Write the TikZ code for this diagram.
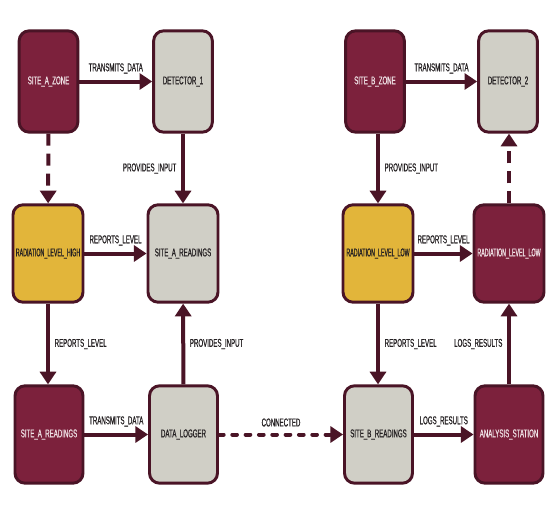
\documentclass[tikz,border=0pt]{standalone}
\usepackage{fontspec}
\setmainfont[FakeStretch=0.54, FakeBold=0.6]{Liberation Sans}
\newfontfamily\tightfont[FakeStretch=0.47, FakeBold=0.6]{Liberation Sans}
\usetikzlibrary{arrows.meta}

\definecolor{wine}{RGB}{124,33,60}
\definecolor{winetext}{RGB}{240,226,230}
\definecolor{framemaroon}{RGB}{74,20,38}
\definecolor{stone}{RGB}{208,207,198}
\definecolor{mustard}{RGB}{226,181,58}
\definecolor{inktext}{RGB}{36,32,34}

\tikzset{every picture/.style={line width=0.75pt},
  block/.style={draw=framemaroon, line width=2.2pt, rounded corners=7.5pt, align=center, inner sep=1pt, font=\fontsize{8.5}{9}\selectfont},
  winebox/.style={block, fill=wine, text=winetext},
  stonebox/.style={block, fill=stone, text=inktext},
  mustardbox/.style={block, fill=mustard, text=inktext},
  toprow/.style={minimum width=44pt, minimum height=76pt},
  midrow/.style={minimum width=52.5pt, minimum height=73pt},
  lowrow/.style={minimum width=51pt, minimum height=73pt},
  flow/.style={draw=framemaroon, line width=3pt, -{Triangle[width=12pt,length=9.5pt]}},
  dashflow/.style={flow, dash pattern=on 9pt off 6pt},
  dotflow/.style={flow, line cap=round, dash pattern=on 3.5pt off 6.5pt},
  lbl/.style={text=inktext, inner sep=1.5pt, font=\fontsize{8.5}{9}\selectfont}
}

\begin{document}
\begin{tikzpicture}[x=0.75pt,y=0.75pt,yscale=-1,xscale=1]
    %set diagram at 557 x 507
    \path[use as bounding box, fill=white] (0,0) rectangle (557,507);

    % Top row
    \node (siteAzone) at (48.5,81.5) [winebox, toprow] {SITE\_A\_ZONE};
    \node (detector1) at (183,81.5) [stonebox, toprow] {DETECTOR\_1};
    \node (siteBzone) at (375,81.5) [winebox, toprow] {SITE\_B\_ZONE};
    \node (detector2) at (508,81.5) [stonebox, toprow] {DETECTOR\_2};
    % Middle row
    \node (radHigh) at (48,253.5) [mustardbox, midrow, font=\tightfont\fontsize{8.5}{9}\selectfont] {RADIATION\_LEVEL\_HIGH};
    \node (siteAread) at (183,253.5) [stonebox, midrow] {SITE\_A\_READINGS};
    \node (radLowA) at (378,253.5) [mustardbox, midrow, font=\tightfont\fontsize{8.5}{9}\selectfont] {RADIATION\_LEVEL\_LOW};
    \node (radLowB) at (509,253.5) [winebox, midrow, font=\tightfont\fontsize{8.5}{9}\selectfont] {RADIATION\_LEVEL\_LOW};
    % Bottom row
    \node (siteAreadB) at (49,434.5) [winebox, lowrow] {SITE\_A\_READINGS};
    \node (logger) at (183.5,434.5) [stonebox, lowrow] {DATA\_LOGGER};
    \node (siteBread) at (378.5,434.5) [stonebox, lowrow] {SITE\_B\_READINGS};
    \node (station) at (509,434.5) [winebox, lowrow] {ANALYSIS\_STATION};

    % Horizontal links
    \draw [flow] (siteAzone) -- (detector1) node [lbl, midway, above=3pt] {TRANSMITS\_DATA};
    \draw [flow] (siteBzone) -- (detector2) node [lbl, midway, above=3pt] {TRANSMITS\_DATA};
    \draw [flow] (radHigh) -- (siteAread) node [lbl, midway, above=3pt] {REPORTS\_LEVEL};
    \draw [flow] (radLowA) -- (radLowB) node [lbl, midway, above=3pt] {REPORTS\_LEVEL};
    \draw [flow] (siteAreadB) -- (logger) node [lbl, midway, above=3pt] {TRANSMITS\_DATA};
    \draw [dotflow] (logger) -- (siteBread) node [lbl, midway, above=3pt] {CONNECTED};
    \draw [flow] (siteBread) -- (station) node [lbl, midway, above=3pt] {LOGS\_RESULTS};

    % Vertical links
    \draw [dashflow] (siteAzone) -- (radHigh);
    \draw [flow] (detector1) -- (siteAread) node [lbl, midway, left=2pt] {PROVIDES\_INPUT};
    \draw [flow] (radHigh) -- (radHigh |- siteAreadB.north) node [lbl, midway, right=2pt] {REPORTS\_LEVEL};
    \draw [flow] (logger) -- (siteAread) node [lbl, midway, right=2pt] {PROVIDES\_INPUT};
    \draw [flow] (radLowA |- siteBzone.south) -- (radLowA) node [lbl, midway, right=2pt] {PROVIDES\_INPUT};
    \draw [flow] (radLowA) -- (radLowA |- siteBread.north) node [lbl, midway, right=2pt] {REPORTS\_LEVEL};
    \draw [flow] (station) -- (radLowB) node [lbl, midway, left=2pt] {LOGS\_RESULTS};
    \draw [dashflow] (radLowB) -- (radLowB |- detector2.south);

\end{tikzpicture}
\end{document}
